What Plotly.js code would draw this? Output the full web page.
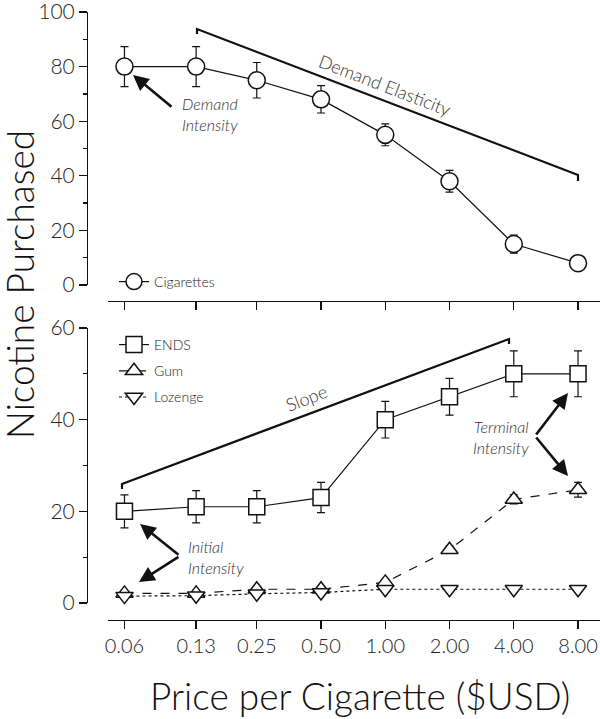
<!DOCTYPE html>
<html>
<head>
<meta charset="utf-8">
<script src="https://cdn.plot.ly/plotly-3.0.1.min.js"></script>
<style>
  html, body { margin: 0; padding: 0; background: #fff; }
  #myDiv { width: 600px; height: 719px; }
</style>
</head>
<body>
<div id="myDiv"></div>
<script>
// price points (log x axis) and the labels printed under them
const prices = [0.06, 0.13, 0.25, 0.5, 1, 2, 4, 8];
const priceLabels = ["0.06", "0.13", "0.25", "0.50", "1.00", "2.00", "4.00", "8.00"];

// top panel
const cigarettes = [80, 80, 75, 68, 55, 38, 15, 8];
const cigarettesErr = [7.3, 7.3, 6.5, 5, 4, 4, 3.3, 1];

// bottom panel
const ends = [20, 21, 21, 23, 40, 45, 50, 50];
const endsErr = [3.6, 3.5, 3.5, 3.3, 4, 4, 5, 5];
const gum = [2.1, 2.1, 3, 3, 4.5, 11.6, 22.6, 24.7];
const gumErr = [0.5, 0.5, 0.5, 0.5, 0.6, 0.8, 1, 1.6];
const lozenge = [1.5, 1.6, 2, 2.3, 3, 3, 3, 3];
const lozengeErr = [0.3, 0.3, 0.3, 0.3, 0.3, 0.3, 0.3, 0.3];

const W = 600, H = 719;
const px = (x) => x / W;        // pixel -> paper
const py = (y) => 1 - y / H;

const ink = "#111";
const font = "Lato, 'Noto Sans', sans-serif";

function errBars(arr) {
  return { type: "data", array: arr, visible: true, color: ink, thickness: 1.2, width: 4 };
}

const trace1 = {
  x: prices, y: cigarettes, xaxis: "x", yaxis: "y",
  type: "scatter", mode: "lines+markers", name: "Cigarettes",
  legend: "legend", showlegend: true,
  line: { color: ink, width: 1.2 },
  marker: { symbol: "circle", size: 17, color: "white", line: { color: ink, width: 1.5 } },
  error_y: errBars(cigarettesErr),
  cliponaxis: false,
};

const trace2 = {
  x: prices, y: ends, xaxis: "x2", yaxis: "y2",
  type: "scatter", mode: "lines+markers", name: "ENDS",
  legend: "legend2", legendgroup: "a", showlegend: true,
  line: { color: ink, width: 1.2 },
  marker: { symbol: "square", size: 16, color: "white", line: { color: ink, width: 1.5 } },
  error_y: errBars(endsErr),
  cliponaxis: false,
};

const trace3 = {
  x: prices, y: gum, xaxis: "x2", yaxis: "y2",
  type: "scatter", mode: "lines+markers", name: "Gum",
  legend: "legend2", legendgroup: "b", showlegend: true,
  line: { color: ink, width: 1.2, dash: "dash" },
  marker: { symbol: "triangle-up", size: 15, color: "white", line: { color: ink, width: 1.5 } },
  error_y: errBars(gumErr),
  cliponaxis: false,
};

const trace4 = {
  x: prices, y: lozenge, xaxis: "x2", yaxis: "y2",
  type: "scatter", mode: "lines+markers", name: "Lozenge",
  legend: "legend2", legendgroup: "c", showlegend: true,
  line: { color: ink, width: 1.2, dash: "dot" },
  marker: { symbol: "triangle-down", size: 15, color: "white", line: { color: ink, width: 1.5 } },
  error_y: errBars(lozengeErr),
  cliponaxis: false,
};

const data = [trace1, trace2, trace3, trace4];

// x axis: log scale, 0.06 sits at ~124px, 8.00 at ~578px
const xRange = [-1.299, 1.006];

function xAxis(pos, labels) {
  return {
    type: "log", range: xRange, domain: [px(108), 1],
    anchor: "free", position: pos,
    tickvals: prices, ticktext: priceLabels, showticklabels: labels,
    ticks: "outside", ticklen: 8, tickwidth: 1.3, tickcolor: ink,
    showline: true, linecolor: ink, linewidth: 1.3,
    showgrid: false, zeroline: false, ticklabeloverflow: "allow",
    tickfont: { family: font, size: 20, color: "#222", weight: 300 },
  };
}

function yAxis(domain, range, tickvals) {
  return {
    domain: domain, range: range, anchor: "free", position: px(87),
    tickvals: tickvals,
    ticks: "outside", ticklen: 8, tickwidth: 1.3, tickcolor: ink,
    minor: { dtick: 10, ticks: "outside", ticklen: 4, tickwidth: 1.3, tickcolor: ink },
    showline: true, linecolor: ink, linewidth: 1.3,
    showgrid: false, zeroline: false, ticklabeloverflow: "allow",
    tickfont: { family: font, size: 21, color: "#222", weight: 300 },
  };
}

const italic = (t) => "<i>" + t + "</i>";

function arrow(x0, y0, x1, y1) {
  return {
    xref: "paper", yref: "paper", axref: "paper", ayref: "paper",
    x: px(x1), y: py(y1), ax: px(x0), ay: py(y0),
    text: "", showarrow: true, arrowhead: 2, arrowsize: 1.2, arrowwidth: 2.6,
    arrowcolor: ink, standoff: 0, startstandoff: 0,
  };
}

function note(text, x, y, xanchor, angle, size) {
  return {
    xref: "paper", yref: "paper", x: px(x), y: py(y),
    text: text, showarrow: false, xanchor: xanchor, yanchor: "middle",
    align: xanchor === "right" ? "right" : "left", textangle: angle || 0,
    font: { family: font, size: size || 16, color: "#333", weight: 300 },
  };
}

function bracket(pts) {
  const path = pts.map((p, i) => (i ? "L" : "M") + px(p[0]) + "," + py(p[1])).join(" ");
  return { type: "path", xref: "paper", yref: "paper", path: path, line: { color: ink, width: 2.2 } };
}

const layout = {
  width: W, height: H,
  margin: { l: 0, r: 0, t: 0, b: 0 },
  paper_bgcolor: "white", plot_bgcolor: "white",
  font: { family: font, color: "#222" },
  showlegend: true,
  xaxis: xAxis(py(301), false),
  xaxis2: xAxis(py(620), true),
  yaxis: yAxis([py(285), py(12)], [0, 100], [0, 20, 40, 60, 80, 100]),
  yaxis2: yAxis([py(603), py(328)], [0, 60], [0, 20, 40, 60]),
  legend: {
    x: px(114), y: py(266), xanchor: "left", yanchor: "top",
    bgcolor: "rgba(0,0,0,0)", itemwidth: 30,
    font: { family: font, size: 14, color: "#222", weight: 300 },
  },
  legend2: {
    x: px(114), y: py(329), xanchor: "left", yanchor: "top",
    bgcolor: "rgba(0,0,0,0)", itemwidth: 30, traceorder: "grouped", tracegroupgap: 5,
    font: { family: font, size: 14, color: "#222", weight: 300 },
  },
  shapes: [
    bracket([[197, 34], [197, 29], [578, 175], [578, 181]]),
    bracket([[122, 489], [122, 484], [509, 339], [509, 344]]),
  ],
  annotations: [
    // axis titles
    { xref: "paper", yref: "paper", x: px(19), y: py(285), xanchor: "center", yanchor: "middle",
      text: "Nicotine Purchased", textangle: -90, showarrow: false,
      font: { family: font, size: 37, color: "#111", weight: 300 } },
    { xref: "paper", yref: "paper", x: px(360), y: py(695), xanchor: "center", yanchor: "middle",
      text: "Price per Cigarette ($USD)", showarrow: false,
      font: { family: font, size: 37, color: "#111", weight: 300 } },
    // callouts
    note("Demand Elasticity", 385, 85, "center", 21, 18),
    note("Slope", 306, 398, "center", -21, 18),
    note(italic("Demand<br>Intensity"), 180, 114, "left"),
    note(italic("Initial<br>Intensity"), 186, 557, "left"),
    note(italic("Terminal<br>Intensity"), 531, 437, "right"),
    arrow(173, 108, 133, 75),
    arrow(180, 556, 140, 524),
    arrow(180, 556, 139, 582),
    arrow(535, 436, 568, 393),
    arrow(535, 436, 568, 476),
  ],
};

Plotly.newPlot("myDiv", data, layout, { staticPlot: true });
</script>
</body>
</html>
